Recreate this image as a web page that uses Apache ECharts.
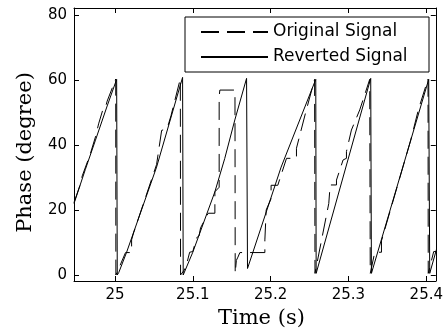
<!DOCTYPE html>
<html>
<head>
<meta charset="utf-8">
<script src="https://cdn.jsdelivr.net/npm/echarts@6/dist/echarts.min.js"></script>
<style>html,body{margin:0;padding:0;background:#fff}#c{width:446px;height:334px}</style>
</head>
<body>
<div id="c"></div>
<script>
// Tick labels
var xTicks = [25, 25.1, 25.2, 25.3, 25.4];
var yTicks = [0, 20, 40, 60, 80];

// Original Signal (dashed)
var origTime = [24.9474, 24.955, 24.957, 24.958, 24.968, 24.975, 24.979, 24.984, 24.987, 24.990, 25.001, 25.0012,
  25.004, 25.0136, 25.0214, 25.0214, 25.024, 25.0535, 25.06, 25.067, 25.072, 25.084, 25.0843,
  25.089, 25.093, 25.095, 25.096, 25.1, 25.105, 25.108, 25.11, 25.1198, 25.1284, 25.1284, 25.1339, 25.1339, 25.1348, 25.154, 25.1542, 25.1545,
  25.156, 25.158, 25.1605, 25.1926, 25.1926, 25.1943, 25.2006, 25.2006, 25.2092, 25.2204, 25.2332, 25.2332, 25.245, 25.2565, 25.257,
  25.2747, 25.2765, 25.2846, 25.2846, 25.2931, 25.2974, 25.2974, 25.3038, 25.3145, 25.3273, 25.328,
  25.3338, 25.3424, 25.3424, 25.38, 25.39, 25.4022, 25.4025,
  25.4095, 25.4145, 25.4145, 25.4172];
var origPhase = [22.3, 27.5, 28, 30.5, 37, 42.5, 46.5, 50.5, 50.8, 53.5, 60.3, 0,
  1.5, 6.9, 6.9, 10.8, 13, 34, 44.5, 45, 49, 60.4, 0,
  1.5, 4.2, 4.2, 7, 7.2, 11.5, 12, 14.5, 19, 19, 25.6, 27, 55, 56.9, 56.9, 56, 0.5,
  4.5, 5.5, 6.9, 6.9, 10.8, 20, 23.5, 27.6, 27.6, 35.9, 35.9, 39, 50, 60.2, 0.5,
  22, 27.7, 27.7, 29.2, 35.4, 35.9, 38, 44.6, 50.8, 60.2, 0.5,
  7, 7, 10.5, 41.5, 51, 60.3, 0.5,
  7.2, 7.2, 9, 11];

// Reverted Signal (solid)
var revTime = [24.9474, 24.962, 24.975, 24.990, 25.0022, 25.003,
  25.005, 25.015, 25.0535, 25.0869, 25.0877,
  25.10, 25.1284, 25.141, 25.154, 25.1691, 25.1703,
  25.1711, 25.2135, 25.258, 25.2585,
  25.3286, 25.3295,
  25.4031, 25.4044,
  25.4172];
var revPhase = [22, 32.5, 41.5, 52, 60.2, 0,
  0.8, 7, 33.2, 60.8, 0,
  7, 25.6, 35.8, 47.7, 60.5, 2,
  2.2, 33.2, 60.2, 0.5,
  60.5, 0.5,
  60.2, 0.5,
  11.4];

function pairs(xs, ys) { return xs.map(function (x, i) { return [x, ys[i]]; }); }

var X_MIN = 24.9474, X_MAX = 25.4122, Y_MIN = -1.85, Y_MAX = 82.15;
var tickFont = { color: '#000', fontFamily: 'DejaVu Sans', fontSize: 15 };

var chart = echarts.init(document.getElementById('c'), null, { renderer: 'canvas' });
chart.setOption({
  animation: false,
  backgroundColor: '#fff',
  grid: { left: 74, right: 10, top: 8, bottom: 53 },
  legend: {
    left: 185, top: 17,
    orient: 'vertical',
    padding: [5, 19, 5, 15],
    itemGap: 5,
    itemWidth: 67, itemHeight: 14,
    borderColor: '#000', borderWidth: 1, backgroundColor: '#fff',
    itemStyle: { opacity: 0 },
    textStyle: { fontFamily: 'DejaVu Sans', fontSize: 17, color: '#000', lineHeight: 20, width: 137 },
    data: ['Original Signal', 'Reverted Signal']
  },
  xAxis: [{
    type: 'value', min: X_MIN, max: X_MAX, position: 'bottom',
    name: 'Time (s)', nameLocation: 'middle', nameGap: 26,
    nameTextStyle: { fontFamily: 'DejaVu Serif', fontSize: 21, color: '#000', padding: [0, 0, 0, 13] },
    axisLine: { show: true, onZero: false, lineStyle: { color: '#000', width: 1 } },
    axisTick: { show: true, inside: true, length: 5, customValues: xTicks, lineStyle: { color: '#000' } },
    axisLabel: { show: true, margin: 7, customValues: xTicks, formatter: function (v) { return String(+(+v).toFixed(1)); }, ...tickFont },
    splitLine: { show: false }
  }, {
    type: 'value', min: X_MIN, max: X_MAX, position: 'top',
    axisLine: { show: true, onZero: false, lineStyle: { color: '#000', width: 1 } },
    axisTick: { show: true, inside: true, length: 5, customValues: xTicks, lineStyle: { color: '#000' } },
    axisLabel: { show: false },
    splitLine: { show: false }
  }],
  yAxis: [{
    type: 'value', min: Y_MIN, max: Y_MAX, position: 'left',
    name: 'Phase (degree)', nameLocation: 'middle', nameGap: 38, nameRotate: 90,
    nameTextStyle: { fontFamily: 'DejaVu Serif', fontSize: 21, color: '#000', padding: [0, 16, 0, 0] },
    axisLine: { show: true, onZero: false, lineStyle: { color: '#000', width: 1 } },
    axisTick: { show: true, inside: true, length: 5, customValues: yTicks, lineStyle: { color: '#000' } },
    axisLabel: { show: true, margin: 7, customValues: yTicks, ...tickFont },
    splitLine: { show: false }
  }, {
    type: 'value', min: Y_MIN, max: Y_MAX, position: 'right',
    axisLine: { show: true, onZero: false, lineStyle: { color: '#000', width: 1 } },
    axisTick: { show: true, inside: true, length: 5, customValues: yTicks, lineStyle: { color: '#000' } },
    axisLabel: { show: false },
    splitLine: { show: false }
  }],
  series: [{
    name: 'Original Signal', type: 'line', xAxisIndex: 0, yAxisIndex: 0,
    data: pairs(origTime, origPhase),
    symbol: 'none', color: '#000',
    lineStyle: { color: '#000', width: 1, type: [18, 8] }
  }, {
    name: 'Reverted Signal', type: 'line', xAxisIndex: 0, yAxisIndex: 0,
    data: pairs(revTime, revPhase),
    symbol: 'none', color: '#000',
    lineStyle: { color: '#000', width: 1 }
  }]
});
</script>
</body>
</html>
